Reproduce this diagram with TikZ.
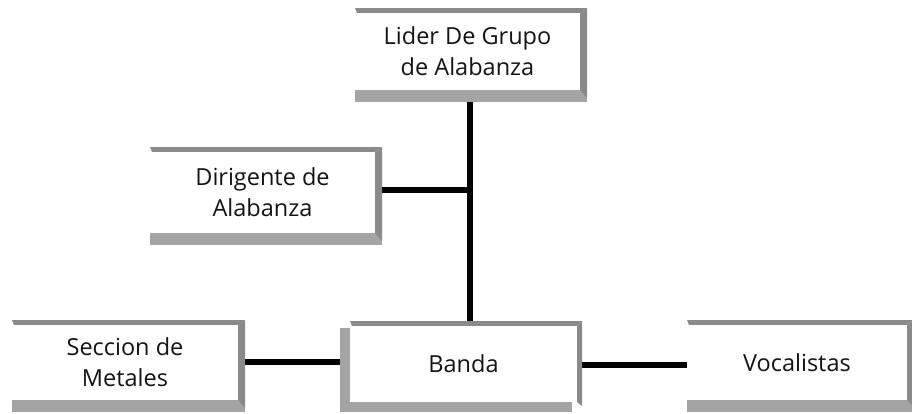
\documentclass[tikz,border=0pt]{standalone}
\usepackage{fontspec}
\setmainfont{Open Sans}
\usetikzlibrary{backgrounds}
\definecolor{stripdark}{HTML}{8A8A8A}
\definecolor{striplight}{HTML}{A4A4A4}
\tikzset{
  boxtext/.style={align=center,font=\fontsize{23.5}{31}\selectfont,text=black!92,inner sep=0pt},
  conn/.style={line width=5.5pt,black},
}
% #1 name, #2 x1, #3 y1, #4 x2, #5 y2, #6 text
\newcommand\bevelbox[6]{%
  \fill[striplight] (#2,#5-12) rectangle (#4,#5);
  \fill[stripdark] (#2,#3) -- (#4,#3) -- (#4-7,#3+5) -- (#2+2,#3+5) -- cycle;
  \fill[stripdark] (#4,#3) -- (#4,#5-4) -- (#4-7,#5-12) -- (#4-7,#3+5) -- cycle;
  \fill[white] (#2,#3+5) rectangle (#4-7,#5-12);
  \node[boxtext,minimum width=#4-7-#2,minimum height=#5-12-#3-5] (#1) at ({(#2+#4-7)/2},{(#3+5+#5-12)/2}) {#6};
}
\begin{document}
\begin{tikzpicture}[x=1pt,y=-1pt]
\useasboundingbox (0,0) rectangle (912,413);
\bevelbox{lider}{355}{8}{587}{102}{Lider De Grupo\\de Alabanza}
\bevelbox{dir}{150}{147}{382}{245}{Dirigente de\\Alabanza}
\bevelbox{sec}{12}{320}{245}{412}{Seccion de\\Metales}
% Banda with extra shadow
\fill[striplight] (340,328) rectangle (572,412);
\fill[stripdark] (350,321) -- (582,321) -- (577,326) -- (352,326) -- cycle;
\fill[stripdark] (582,321) -- (582,406) -- (577,402) -- (577,326) -- cycle;
\fill[white] (350,326) rectangle (577,402);
\node[boxtext,minimum width=227,minimum height=76] (banda) at (463.5,364) {Banda};
\bevelbox{voc}{687}{320}{914}{412}{Vocalistas}
\coordinate (j) at (470,190);
\begin{pgfonlayer}{background}
\draw[conn] (lider.south -| j) -- (banda.north -| j);
\draw[conn] (dir.east |- j) -- (j);
\draw[conn] (sec.east |- 0,362) -- (banda.west |- 0,362);
\draw[conn] (banda.east |- 0,365) -- (voc.west |- 0,365);
\end{pgfonlayer}
\end{tikzpicture}
\end{document}
